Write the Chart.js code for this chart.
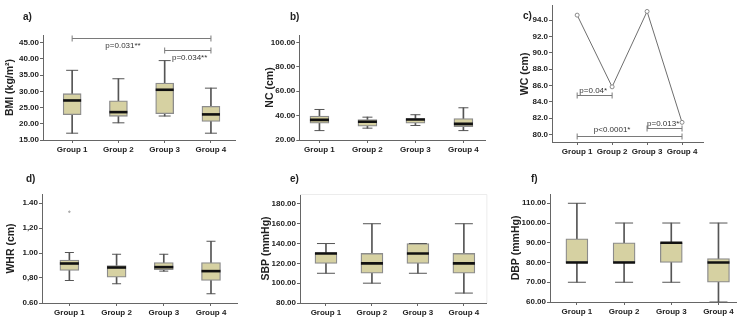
<!DOCTYPE html>
<html>
<head>
<meta charset="utf-8">
<script src="https://cdn.jsdelivr.net/npm/chart.js@4.4.1/dist/chart.umd.min.js"></script>
<style>
  body { margin: 0; background: #fff; width: 750px; height: 328px; position: relative; overflow: hidden; }
  canvas { position: absolute; }
</style>
</head>
<body>
<canvas id="pa" width="250" height="164" style="left:0;top:0"></canvas>
<canvas id="pb" width="250" height="164" style="left:250px;top:0"></canvas>
<canvas id="pc" width="250" height="164" style="left:500px;top:0"></canvas>
<canvas id="pd" width="250" height="164" style="left:0;top:164px"></canvas>
<canvas id="pe" width="250" height="164" style="left:250px;top:164px"></canvas>
<canvas id="pf" width="250" height="164" style="left:500px;top:164px"></canvas>
<script>
const groups = ['Group 1', 'Group 2', 'Group 3', 'Group 4'];
const groupX = [1, 2, 3, 4];

// a) BMI
const bmiMin = [17.1, 20.3, 22.4, 17.1];
const bmiQ1  = [22.8, 22.3, 23.1, 20.7];
const bmiMed = [27.2, 23.6, 30.5, 22.9];
const bmiQ3  = [29.3, 27.1, 32.6, 25.4];
const bmiMax = [36.5, 33.9, 39.5, 31.0];
const bmiTicks = [15, 20, 25, 30, 35, 40, 45];

// b) NC
const ncMin = [27.7, 29.7, 31.9, 27.7];
const ncQ1  = [33.8, 31.3, 33.8, 31.0];
const ncMed = [36.5, 35.0, 36.8, 33.2];
const ncQ3  = [39.6, 36.8, 37.6, 37.6];
const ncMax = [45.0, 38.7, 40.7, 46.4];
const ncTicks = [20, 40, 60, 80, 100];

// c) WC (means)
const wcMean = [94.6, 85.84, 95.05, 81.5];
const wcTicks = [80, 82, 84, 86, 88, 90, 92, 94];

// d) WHR
const whrMin = [0.78, 0.754, 0.855, 0.674];
const whrQ1  = [0.86, 0.807, 0.866, 0.78];
const whrMed = [0.916, 0.884, 0.887, 0.855];
const whrQ3  = [0.943, 0.90, 0.924, 0.924];
const whrMax = [1.004, 0.99, 0.99, 1.094];
const whrOut = [1.33, null, null, null];
const whrTicks = [0.6, 0.8, 1.0, 1.2, 1.4];
const whrTickLabels = ['0.60', '0,80', '1.00', '1,20', '1.40'];

// e) SBP
const sbpMin = [110, 100, 110, 90];
const sbpQ1  = [120, 110, 120, 110];
const sbpMed = [130, 120, 130, 120];
const sbpQ3  = [131, 130, 140, 130];
const sbpMax = [140, 160, 140, 160];
const sbpTicks = [80, 100, 120, 140, 160, 180];

// f) DBP
const dbpMin = [70, 70, 70, 60];
const dbpQ1  = [80, 80, 80, 70];
const dbpMed = [80, 80, 90, 80];
const dbpQ3  = [92, 90, 90, 82];
const dbpMax = [110, 100, 100, 100];
const dbpTicks = [60, 70, 80, 90, 100, 110];

const FONT = "'Liberation Sans', Arial, sans-serif";
const INK = '#222';
const BOX_FILL = '#d6d1a2';

// brackets, panel letters, faint frame
const extras = {
  id: 'extras',
  afterDatasetsDraw(chart, args, o) {
    const ctx = chart.ctx, xs = chart.scales.x, ys = chart.scales.y, ca = chart.chartArea;
    ctx.save();
    if (o.frame) {
      ctx.strokeStyle = '#ececec'; ctx.lineWidth = 1;
      ctx.beginPath(); ctx.moveTo(ca.left, ca.top + 0.5); ctx.lineTo(ca.right + 0.5, ca.top + 0.5); ctx.lineTo(ca.right + 0.5, ca.bottom); ctx.stroke();
    }
    (o.brackets || []).forEach(b => {
      const x1 = xs.getPixelForValue(b.from), x2 = xs.getPixelForValue(b.to), y = Math.round(ys.getPixelForValue(b.at)) + 0.5;
      ctx.strokeStyle = '#7a7a7a'; ctx.lineWidth = 1;
      ctx.beginPath();
      ctx.moveTo(x1, y); ctx.lineTo(x2, y);
      ctx.moveTo(x1, y - 3); ctx.lineTo(x1, y + 3);
      ctx.moveTo(x2, y - 3); ctx.lineTo(x2, y + 3);
      ctx.stroke();
      ctx.fillStyle = '#333'; ctx.font = '8px ' + FONT; ctx.textAlign = 'center'; ctx.textBaseline = 'middle';
      ctx.fillText(b.text, xs.getPixelForValue(b.tx), y + b.dy);
    });
    if (o.letter) {
      ctx.fillStyle = INK; ctx.font = 'bold 10px ' + FONT; ctx.textAlign = 'left'; ctx.textBaseline = 'middle';
      ctx.fillText(o.letter, o.lx, o.ly);
    }
    ctx.restore();
  }
};
Chart.register(extras);

function scalesFor(p) {
  return {
    x: {
      type: 'linear', min: p.xMin, max: p.xMax, offset: false,
      afterBuildTicks: s => { s.ticks = groupX.map(v => ({ value: v })); },
      afterFit: s => { s.height = p.xH; },
      grid: { display: true, drawOnChartArea: false, tickLength: 3, color: '#666', offset: false },
      border: { display: true, color: '#666' },
      ticks: { autoSkip: false, maxRotation: 0, padding: 2, color: INK, font: { family: FONT, size: 8, weight: 'bold' },
               callback: v => groups[v - 1] }
    },
    y: {
      type: 'linear', min: p.yMin, max: p.yMax,
      afterBuildTicks: s => { s.ticks = p.ticks.map(v => ({ value: v })); },
      afterFit: s => { s.width = p.yW; },
      grid: { display: true, drawOnChartArea: false, tickLength: 3, color: '#666' },
      border: { display: true, color: '#666' },
      ticks: { padding: 1, color: INK, font: { family: FONT, size: 8, weight: 'bold' },
               callback: p.tickFmt || (v => v.toFixed(2)) },
      title: { display: true, text: p.title, color: INK, padding: { top: 4, bottom: 0 },
               font: { family: FONT, size: 10.5, weight: 'bold' } }
    }
  };
}

function boxChart(id, p) {
  const pts = arr => groupX.map((x, i) => ({ x: x, y: arr[i] }));
  const datasets = [
    { type: 'line', data: pts(p.med), showLine: false, pointStyle: 'line', pointRadius: p.boxW / 2,
      borderColor: '#111', pointBorderWidth: 2.6, order: 0 },
    { type: 'line', data: pts(p.max).concat(pts(p.min)), showLine: false, pointStyle: 'line', pointRadius: p.capR,
      borderColor: '#555', pointBorderWidth: 1, order: 1 },
    { type: 'bar', data: groupX.map((x, i) => ({ x: x, y: [p.q1[i], p.q3[i]] })), barThickness: p.boxW,
      backgroundColor: BOX_FILL, borderColor: '#8c8c8c', borderWidth: 1.3, borderSkipped: false, grouped: false, order: 2 },
    { type: 'bar', data: groupX.map((x, i) => ({ x: x, y: [p.min[i], p.max[i]] })), barThickness: 1,
      backgroundColor: '#555', borderWidth: 0, grouped: false, order: 3 }
  ];
  if (p.out) datasets.push({ type: 'line', data: pts(p.out), showLine: false, pointRadius: 0.8,
    backgroundColor: '#aaa', borderColor: '#aaa', order: 0 });
  return new Chart(document.getElementById(id), {
    type: 'bar',
    data: { datasets },
    options: {
      responsive: false, animation: false, events: [],
      layout: { padding: { top: p.top, right: p.right, left: p.left, bottom: 0 } },
      scales: scalesFor(p),
      plugins: { legend: { display: false }, tooltip: { enabled: false },
                 extras: { letter: p.letter, lx: p.lx, ly: p.ly, brackets: p.brackets || [], frame: p.frame } }
    }
  });
}

boxChart('pa', {
  min: bmiMin, q1: bmiQ1, med: bmiMed, q3: bmiQ3, max: bmiMax, ticks: bmiTicks,
  title: 'BMI (kg/m²)', yMin: 15, yMax: 47.4, xMin: 0.37, xMax: 4.52,
  top: 35, right: 15, left: 0, yW: 43, xH: 24, boxW: 18, capR: 6,
  letter: 'a)', lx: 23, ly: 17,
  brackets: [
    { from: 1, to: 4, at: 46.6, text: 'p=0.031**', tx: 2.1, dy: 7 },
    { from: 3, to: 4, at: 42.8, text: 'p=0.034**', tx: 3.54, dy: 7.5 }
  ]
});

boxChart('pb', {
  min: ncMin, q1: ncQ1, med: ncMed, q3: ncQ3, max: ncMax, ticks: ncTicks,
  title: 'NC (cm)', yMin: 20, yMax: 106, xMin: 0.58, xMax: 4.45,
  top: 35, right: 15, left: 10, yW: 39.3, xH: 24, boxW: 19, capR: 5,
  letter: 'b)', lx: 40, ly: 17
});

new Chart(document.getElementById('pc'), {
  type: 'line',
  data: { datasets: [{
    data: groupX.map((x, i) => ({ x: x, y: wcMean[i] })),
    borderColor: '#6e6e6e', borderWidth: 1, tension: 0,
    pointRadius: 2, pointBackgroundColor: '#fff', pointBorderColor: '#888', pointBorderWidth: 1
  }] },
  options: {
    responsive: false, animation: false, events: [],
    layout: { padding: { top: 5, right: 47, left: 15, bottom: 0 } },
    scales: scalesFor({ xMin: 0.28, xMax: 4.6, xH: 22, yMin: 79.1, yMax: 95.74, yW: 37, ticks: wcTicks,
                        title: 'WC (cm)', tickFmt: v => v.toFixed(1) }),
    plugins: { legend: { display: false }, tooltip: { enabled: false },
      extras: { letter: 'c)', lx: 23, ly: 16, brackets: [
        { from: 1, to: 2, at: 84.8, text: 'p=0.04*', tx: 1.46, dy: -5 },
        { from: 3, to: 4, at: 80.85, text: 'p=0.013*', tx: 3.46, dy: -5 },
        { from: 1, to: 4, at: 79.8, text: 'p<0.0001*', tx: 2.0, dy: -6.5 }
      ] } }
  }
});

boxChart('pd', {
  min: whrMin, q1: whrQ1, med: whrMed, q3: whrQ3, max: whrMax, out: whrOut, ticks: whrTicks,
  title: 'WHR (cm)', yMin: 0.6, yMax: 1.472, xMin: 0.42, xMax: 4.57,
  top: 30, right: 12, left: 1, yW: 41, xH: 25, boxW: 19, capR: 4.5,
  tickFmt: (v, i) => whrTickLabels[i],
  letter: 'd)', lx: 26, ly: 15
});

boxChart('pe', {
  min: sbpMin, q1: sbpQ1, med: sbpMed, q3: sbpQ3, max: sbpMax, ticks: sbpTicks,
  title: 'SBP (mmHg)', yMin: 80, yMax: 190, xMin: 0.435, xMax: 4.49,
  top: 30, right: 13, left: 6, yW: 44, xH: 25, boxW: 22, capR: 9, frame: true,
  letter: 'e)', lx: 40, ly: 15
});

boxChart('pf', {
  min: dbpMin, q1: dbpQ1, med: dbpMed, q3: dbpQ3, max: dbpMax, ticks: dbpTicks,
  title: 'DBP (mmHg)', yMin: 60, yMax: 114.7, xMin: 0.43, xMax: 4.38,
  top: 30, right: 12, left: 6, yW: 44, xH: 26, boxW: 22, capR: 9,
  letter: 'f)', lx: 31, ly: 15
});
</script>
</body>
</html>
